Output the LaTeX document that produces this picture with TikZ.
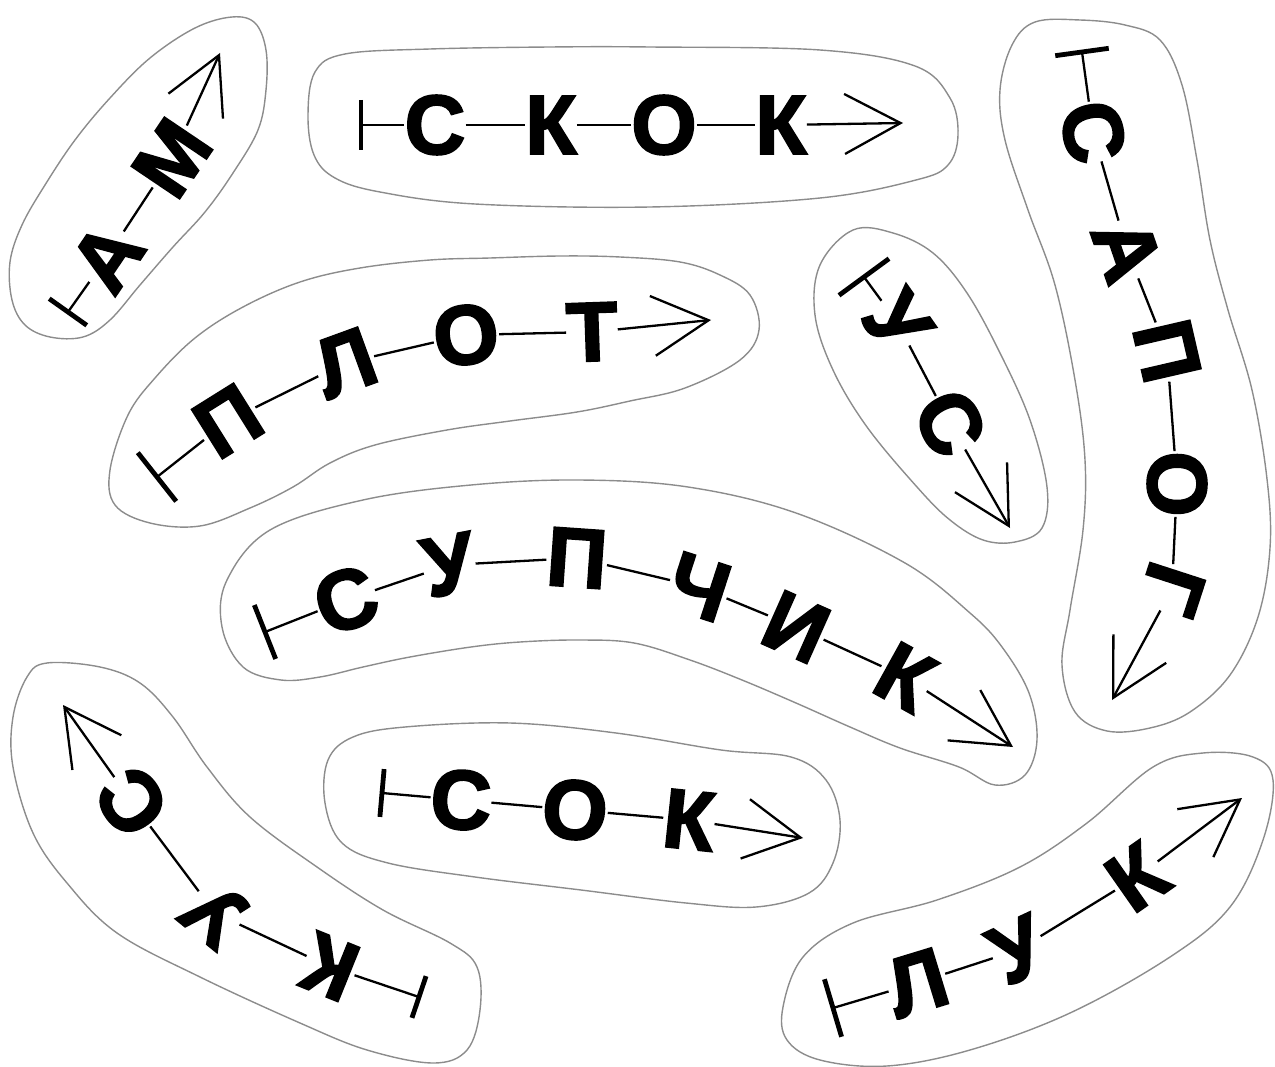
\documentclass[tikz,border=0pt]{standalone}
\usepackage{fontspec}
\newfontfamily\lettersfont{Liberation Sans Bold}[FakeBold=2.5]
\usetikzlibrary{arrows.meta,calc}
\begin{document}
\begin{tikzpicture}[x=1pt,y=-1pt,
  blob/.style={draw=black!45, line width=1.4pt},
  lt/.style={font=\fontsize{84}{84}\lettersfont, inner sep=0pt},
  link/.style={line width=2.3pt},
  barline/.style={line width=4.8pt},
  endarrow/.style={line width=2.3pt, arrows={-Straight Barb[length=56pt,width=60pt,line width=2.3pt]}},
]
\useasboundingbox (0,0) rectangle (1275,1067);

% start bar: perpendicular to the first connector, centred on the start point
\newcommand{\startbar}[3]{% start coordinate, first letter node, half length
  \draw[barline] ($(#1)!#3!90:(#2)$) -- ($(#1)!#3!-90:(#2)$);
  \draw[link] (#1) -- (#2);}

% ---------- blob outlines ----------
\draw[blob] plot[smooth cycle, tension=0.6] coordinates {
 (232,17) (255,23) (266,50) (266,90) (258,130) (233,173) (205,212) (173,247)
 (140,285) (110,320) (83,337) (50,337) (25,325) (12,300) (10,262) (22,225)
 (45,185) (75,140) (110,98) (150,58) (195,28)};
\draw[blob] plot[smooth cycle, tension=0.6] coordinates {
 (345,54) (430,49) (550,47) (650,47) (820,50) (915,66) (950,98) (958,135)
 (948,165) (916,180) (820,198) (650,207) (475,204) (380,192) (335,178)
 (314,155) (308,115) (315,72)};
\draw[blob] plot[smooth cycle, tension=0.6] coordinates {
 (1035,22) (1080,20) (1125,25) (1160,40) (1182,85) (1197,160) (1210,240)
 (1228,310) (1252,390) (1267,479) (1270,548) (1258,617) (1230,675) (1190,712)
 (1150,728) (1107,731) (1075,712) (1062,665) (1070,610) (1083,530) (1085,460)
 (1075,380) (1055,285) (1028,210) (1005,140) (1000,90) (1012,45)};
\draw[blob] plot[smooth cycle, tension=0.6] coordinates {
 (853,230) (893,233) (933,253) (967,293) (1000,353) (1030,420) (1047,487)
 (1042,528) (1015,542) (983,540) (950,520) (917,487) (867,427) (833,370)
 (815,315) (820,265)};
\draw[blob] plot[smooth cycle, tension=0.6] coordinates {
 (243,307) (300,282) (360,268) (430,260) (490,258) (560,256) (620,257)
 (680,262) (720,275) (750,295) (759,330) (740,360) (685,388) (630,401)
 (577,412) (510,421) (447,430) (375,445) (330,463) (293,487) (250,508)
 (200,526) (150,523) (115,505) (110,470) (128,415) (155,378) (195,338)};
\draw[blob] plot[smooth cycle, tension=0.6] coordinates {
 (227,580) (270,530) (363,500) (471,485) (579,480) (688,487) (796,513)
 (905,563) (970,613) (1002,647) (1029,693) (1037,740) (1025,775) (995,785)
 (959,767) (900,748) (850,727) (796,703) (742,680) (690,660) (634,643)
 (579,640) (520,642) (471,647) (410,657) (363,667) (320,677) (281,680)
 (243,667) (222,627)};
\draw[blob] plot[smooth cycle, tension=0.6] coordinates {
 (47,663) (100,667) (140,683) (173,717) (207,767) (250,817) (317,867)
 (383,910) (450,943) (477,967) (480,1010) (467,1050) (433,1063) (367,1050)
 (300,1023) (200,977) (117,933) (67,883) (33,833) (13,767) (13,717) (27,677)};
\draw[blob] plot[smooth cycle, tension=0.6] coordinates {
 (405,727) (510,723) (616,733) (721,750) (791,757) (826,780) (840,820)
 (833,863) (809,893) (756,907) (686,903) (581,890) (475,877) (388,863)
 (342,843) (325,803) (328,760) (353,737)};
\draw[blob] plot[smooth cycle, tension=0.6] coordinates {
 (783,1007) (803,957) (853,923) (937,900) (1020,867) (1087,823) (1153,767)
 (1203,753) (1253,757) (1273,780) (1263,840) (1230,907) (1170,957)
 (1070,1013) (970,1050) (887,1066) (820,1060) (787,1040)};

% ---------- word 1: А М ----------
\coordinate (s1) at (68,312);
\node[lt, rotate=56] (a1) at (107,257) {А};
\node[lt, rotate=56] (a2) at (172,158) {М};
\coordinate (t1) at (220,53);
\startbar{s1}{a1}{23pt}
\draw[link] (a1) -- (a2);
\draw[endarrow] (a2) -- (t1);

% ---------- word 2: С К О К ----------
\coordinate (s2) at (361,125);
\node[lt] (b1) at (435,125) {С};
\node[lt] (b2) at (551,125) {К};
\node[lt] (b3) at (664,125) {О};
\node[lt] (b4) at (781,125) {К};
\coordinate (t2) at (903,123);
\startbar{s2}{b1}{25pt}
\draw[link] (b1) -- (b2);
\draw[link] (b2) -- (b3);
\draw[link] (b3) -- (b4);
\draw[endarrow] (b4) -- (t2);

% ---------- word 3: С А П О Г ----------
\coordinate (s3) at (1082,52);
\node[lt, rotate=-78] (c1) at (1093,132) {С};
\node[lt, rotate=-71] (c2) at (1127,250) {А};
\node[lt, rotate=-77] (c3) at (1167,351) {П};
\node[lt, rotate=-90] (c4) at (1177,484) {О};
\node[lt, rotate=-108] (c5) at (1172,589) {Г};
\coordinate (t3) at (1112,700);
\startbar{s3}{c1}{27pt}
\draw[link] (c1) -- (c2);
\draw[link] (c2) -- (c3);
\draw[link] (c3) -- (c4);
\draw[link] (c4) -- (c5);
\draw[endarrow] (c5) -- (t3);

% ---------- word 4: У С ----------
\coordinate (s4) at (864,277);
\node[lt, rotate=-55] (d1) at (897,322) {У};
\node[lt, rotate=-62] (d2) at (950,423) {С};
\coordinate (t4) at (1010,528);
\startbar{s4}{d1}{31pt}
\draw[link] (d1) -- (d2);
\draw[endarrow] (d2) -- (t4);

% ---------- word 5: П Л О Т ----------
\coordinate (s5) at (157,477);
\node[lt, rotate=32] (e1) at (228,421) {П};
\node[lt, rotate=20] (e2) at (345,363) {Л};
\node[lt, rotate=7] (e3) at (466,335) {О};
\node[lt, rotate=2] (e4) at (592,332) {Т};
\coordinate (t5) at (711,320);
\startbar{s5}{e1}{31pt}
\draw[link] (e1) -- (e2);
\draw[link] (e2) -- (e3);
\draw[link] (e3) -- (e4);
\draw[endarrow] (e4) -- (t5);

% ---------- word 6: С У П Ч И К ----------
\coordinate (s6) at (265,632);
\node[lt, rotate=20] (f1) at (346,600) {С};
\node[lt, rotate=11] (f2) at (449,565) {У};
\node[lt, rotate=-4] (f3) at (577,558) {П};
\node[lt, rotate=-18] (f4) at (699,587) {Ч};
\node[lt, rotate=-24] (f5) at (796,627) {И};
\node[lt, rotate=-29] (f6) at (905,677) {К};
\coordinate (t6) at (1013,747);
\startbar{s6}{f1}{29pt}
\draw[link] (f1) -- (f2);
\draw[link] (f2) -- (f3);
\draw[link] (f3) -- (f4);
\draw[link] (f4) -- (f5);
\draw[link] (f5) -- (f6);
\draw[endarrow] (f6) -- (t6);

% ---------- word 7: К У С (reversed) ----------
\coordinate (s7) at (419,997);
\node[lt, rotate=158] (g1) at (330,967) {К};
\node[lt, rotate=141] (g2) at (215,913) {У};
\node[lt, rotate=126] (g3) at (132,802) {С};
\coordinate (t7) at (63,705);
\startbar{s7}{g1}{22pt}
\draw[link] (g1) -- (g2);
\draw[link] (g2) -- (g3);
\draw[endarrow] (g3) -- (t7);

% ---------- word 8: С О К ----------
\coordinate (s8) at (382,793);
\node[lt, rotate=-3] (h1) at (461,800) {С};
\node[lt, rotate=-5] (h2) at (575,810) {О};
\node[lt, rotate=-6] (h3) at (689,820) {К};
\coordinate (t8) at (803,838);
\startbar{s8}{h1}{24pt}
\draw[link] (h1) -- (h2);
\draw[link] (h2) -- (h3);
\draw[endarrow] (h3) -- (t8);

% ---------- word 9: Л У К ----------
\coordinate (s9) at (833,1008);
\node[lt, rotate=17] (k1) at (917,983) {Л};
\node[lt, rotate=25] (k2) at (1018,950) {У};
\node[lt, rotate=35] (k3) at (1137,877) {К};
\coordinate (t9) at (1242,798);
\startbar{s9}{k1}{30pt}
\draw[link] (k1) -- (k2);
\draw[link] (k2) -- (k3);
\draw[endarrow] (k3) -- (t9);
\end{tikzpicture}
\end{document}
